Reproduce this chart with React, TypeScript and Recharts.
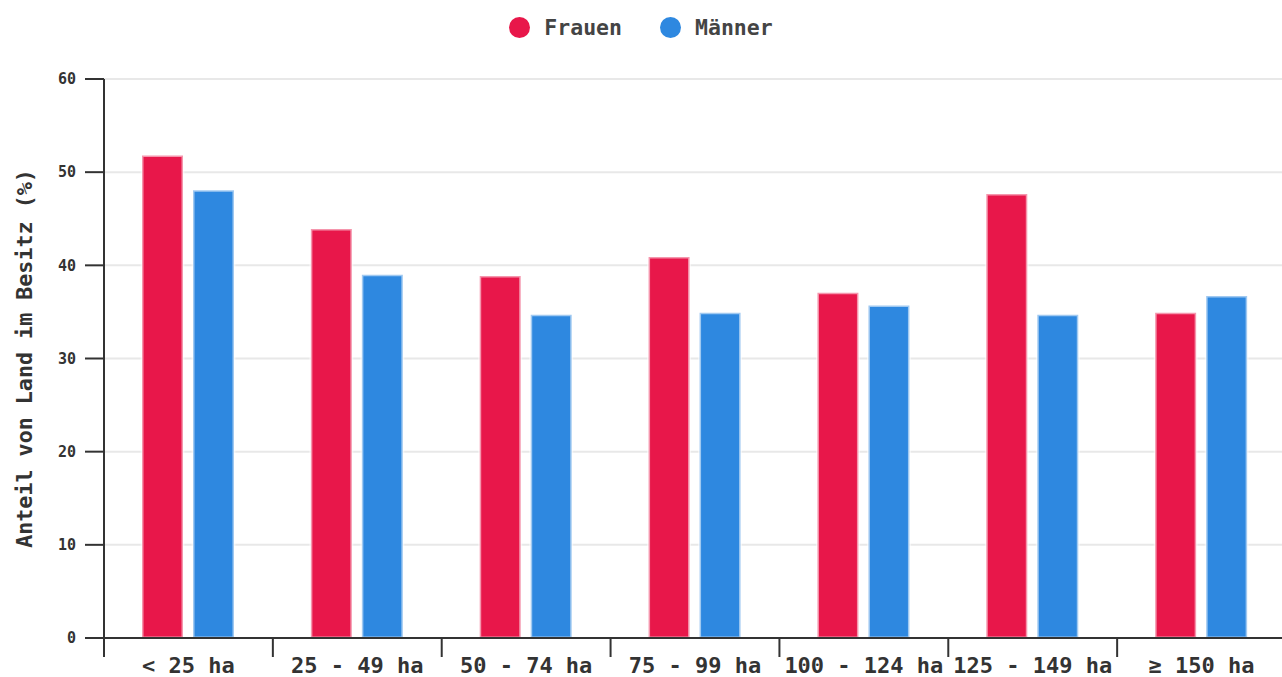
import React from 'react';
import { BarChart, Bar, XAxis, YAxis, CartesianGrid, Legend } from 'recharts';

const categories = ['< 25 ha', '25 - 49 ha', '50 - 74 ha', '75 - 99 ha', '100 - 124 ha', '125 - 149 ha', '≥ 150 ha'];
const frauen = [51.8, 43.9, 38.85, 40.9, 37.05, 47.65, 34.9];
const maenner = [48.05, 39.0, 34.7, 34.9, 35.7, 34.7, 36.7];
const yTicks = [0, 10, 20, 30, 40, 50, 60];
const seriesNames = ['Frauen', 'Männer'];
const seriesColors = ['#E8174A', '#2E88E0'];
const yLabel = 'Anteil von Land im Besitz (%)';

const data = categories.map((c, i) => ({ cat: c, Frauen: frauen[i], Männer: maenner[i] }));

const FONT = '"DejaVu Sans Mono", monospace';
const CHART_W = 1290;
const CHART_H = 677;
const MARGIN = { top: 39, right: 4, bottom: 0, left: 0 };
const Y_W = 104;
const PLOT_W = CHART_W - MARGIN.left - MARGIN.right - Y_W;
const BAND = PLOT_W / categories.length;
const AXIS_COLOR = '#333';

function XTick(props: any) {
  const { x, y, payload } = props;
  const left = x - BAND / 2;
  return (
    <g>
      <line x1={left} x2={left} y1={y} y2={y + 19} stroke={AXIS_COLOR} strokeWidth={2} />
      <text x={x} y={y + 35} textAnchor="middle" fontFamily={FONT} fontWeight="bold" fontSize={22} fill="#333">
        {payload.value}
      </text>
    </g>
  );
}

function LegendContent() {
  return (
    <div style={{ height: 40, display: 'flex', justifyContent: 'center', alignItems: 'center', fontFamily: FONT, fontWeight: 'bold', fontSize: 21.5, color: '#444' }}>
      {seriesNames.map((n, i) => (
        <div key={n} style={{ display: 'flex', alignItems: 'center', marginLeft: i === 0 ? 0 : 38 }}>
          <span style={{ display: 'inline-block', width: 21, height: 21, borderRadius: '50%', background: seriesColors[i], marginRight: 14 }} />
          <span>{n}</span>
        </div>
      ))}
    </div>
  );
}

function YLabel(props: any) {
  const vb = props.viewBox || {};
  const cy = (vb.y || 0) + (vb.height || 0) / 2;
  const cx = 24;
  return (
    <text x={cx} y={cy} transform={`rotate(-90 ${cx} ${cy})`} textAnchor="middle" dominantBaseline="central" fontFamily={FONT} fontWeight="bold" fontSize={21.7} fill="#333">
      {yLabel}
    </text>
  );
}

export default function App() {
  return (
    <div style={{ position: 'absolute', left: 0, top: 0, width: 1282, height: 677, overflow: 'hidden', background: '#fff' }}>
      <BarChart width={CHART_W} height={CHART_H} data={data} margin={MARGIN} barSize={41} barGap={10}>
        <CartesianGrid vertical={false} stroke="#e8e8e8" strokeWidth={2} />
        <XAxis
          dataKey="cat"
          height={39}
          tick={<XTick />}
          tickLine={false}
          tickSize={0}
          tickMargin={0}
          interval={0}
          axisLine={{ stroke: AXIS_COLOR, strokeWidth: 2 }}
        />
        <YAxis
          width={Y_W}
          domain={[0, 60]}
          ticks={yTicks}
          interval={0}
          tickSize={19}
          tickMargin={9}
          axisLine={{ stroke: AXIS_COLOR, strokeWidth: 2 }}
          tickLine={{ stroke: AXIS_COLOR, strokeWidth: 2 }}
          tick={{ fontFamily: FONT, fontWeight: 'bold', fontSize: 15, fill: '#333' }}
          label={<YLabel />}
        />
        <Legend verticalAlign="top" content={<LegendContent />} wrapperStyle={{ top: 7, left: 0, width: 1282 }} />
        <Bar dataKey="Frauen" fill={seriesColors[0]} stroke="#fff" strokeOpacity={0.55} strokeWidth={3} isAnimationActive={false} />
        <Bar dataKey="Männer" fill={seriesColors[1]} stroke="#fff" strokeOpacity={0.55} strokeWidth={3} isAnimationActive={false} />
      </BarChart>
    </div>
  );
}
